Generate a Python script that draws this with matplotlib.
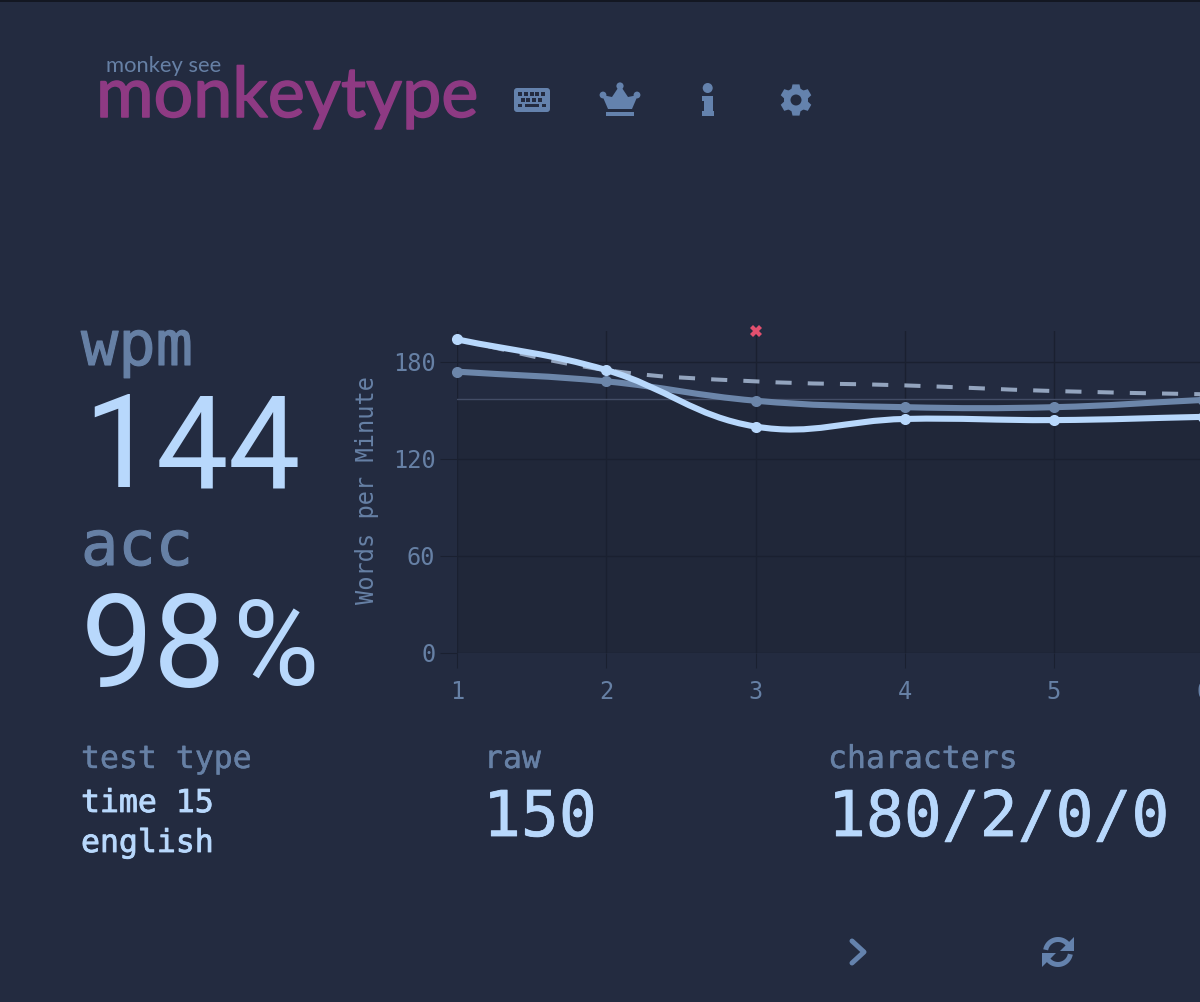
import numpy as np
import matplotlib
matplotlib.use("Agg")
import matplotlib.pyplot as plt
import matplotlib.patheffects as pe
from matplotlib.path import Path
from matplotlib.patches import PathPatch, Polygon, Circle, FancyBboxPatch, Rectangle

BG = "#232b40"
PLOT_BG = "#202739"
GRID = "#1a2030"
SUB = "#6680a5"
MAIN = "#b8d8fc"
LOGO = "#8e3a83"
MONO = "DejaVu Sans Mono"

seconds = [1, 2, 3, 4, 5, 6]
wpm = [194, 175, 140, 144.7, 144, 146]
raw = [174, 168, 156, 152, 152, 156.5]
burst_avg = [194, 175, 168, 165.5, 162, 160]
errors = [0, 0, 2, 0, 0, 0]
pb_line = 157
y_ticks = [0, 60, 120, 180]


def spline_path(xs, ys, tension=0.4, sx=149.25, sy=1.614):
    # same control points chart.js uses for its curved lines
    pts = np.column_stack([np.array(xs) * sx, np.array(ys) * sy])
    n = len(pts)
    verts = [pts[0]]
    codes = [Path.MOVETO]
    ctrl_out = [None] * n
    ctrl_in = [None] * n
    for i in range(n):
        prev = pts[max(i - 1, 0)]
        nxt = pts[min(i + 1, n - 1)]
        d01 = np.linalg.norm(pts[i] - prev)
        d12 = np.linalg.norm(nxt - pts[i])
        fa = tension * d01 / (d01 + d12)
        fb = tension * d12 / (d01 + d12)
        ctrl_in[i] = pts[i] - fa * (nxt - prev)
        ctrl_out[i] = pts[i] + fb * (nxt - prev)
    for i in range(n - 1):
        verts += [ctrl_out[i], ctrl_in[i + 1], pts[i + 1]]
        codes += [Path.CURVE4] * 3
    return Path(np.array(verts) / [sx, sy], codes)


fig = plt.figure(figsize=(12, 10.02), dpi=100, facecolor=BG)

# chart, the right edge runs just off the picture like the original crop
ax = fig.add_axes([457 / 1200, (1002 - 652.5) / 1002, (5 * 149.25) / 1200, 321.5 / 1002])
ax.set_facecolor(BG)
for s in ax.spines.values():
    s.set_visible(False)
ax.set_xlim(1, 6)
ax.set_ylim(0, 199.2)
ax.axhspan(0, pb_line, color=PLOT_BG, lw=0, zorder=0)
ax.axhline(pb_line, color="#434d66", lw=1, zorder=1)
ax.set_xticks(seconds)
ax.set_yticks(y_ticks)
ax.grid(True, color=GRID, lw=1, zorder=1)
ax.set_axisbelow(True)
ax.tick_params(axis="x", length=10.8, width=0.8, color=GRID, pad=9, labelcolor=SUB, labelsize=17)
ax.tick_params(axis="y", length=12, width=0.8, color=GRID, pad=3.5, labelcolor=SUB, labelsize=17)
for lab in ax.get_xticklabels() + ax.get_yticklabels():
    lab.set_family(MONO)
ax.set_ylabel("Words per Minute", color=SUB, fontsize=17, family=MONO)
ax.yaxis.set_label_coords(-0.104, 0.505)

ax.add_patch(PathPatch(spline_path(seconds, burst_avg), fill=False, ec="#93a4be", lw=2.9,
                       ls=(0, (4, 4)), capstyle="butt", zorder=3, clip_on=False))
ax.add_patch(PathPatch(spline_path(seconds, raw), fill=False, ec="#6c86aa", lw=4.4, zorder=4, clip_on=False))
ax.plot(seconds, raw, "o", color="#6c86aa", ms=8, mew=0, zorder=4, clip_on=False)
ax.add_patch(PathPatch(spline_path(seconds, wpm), fill=False, ec=MAIN, lw=4.4, zorder=5, clip_on=False))
ax.plot(seconds, wpm, "o", color=MAIN, ms=8, mew=0, zorder=5, clip_on=False)

ax2 = ax.twinx()
for s in ax2.spines.values():
    s.set_visible(False)
ax2.set_ylim(0, 2)
ax2.set_yticks([])
err_x = [x for x, e in zip(seconds, errors) if e > 0]
err_y = [e for e in errors if e > 0]
ax2.plot(err_x, err_y, "X", color="#e2506f", ms=8, mew=0, clip_on=False)

# everything else is placed in picture pixels
ov = fig.add_axes([0, 0, 1, 1], zorder=10)
ov.set_xlim(0, 1200)
ov.set_ylim(1002, 0)
ov.axis("off")
ov.patch.set_alpha(0)
ov.plot([0, 1200], [0.5, 0.5], color="#10131c", lw=1.2)


def txt(x, y, s, px, color=SUB, family=MONO, stroke=0, **kw):
    t = ov.text(x, y, s, fontsize=px * 0.72, color=color, family=family, va="baseline", ha="left", **kw)
    if stroke:
        t.set_path_effects([pe.withStroke(linewidth=stroke, foreground=color)])


txt(106, 72, "monkey see", 22, family="Lato")
txt(96, 117, "monkeytype", 70, color=LOGO, family="Lato", stroke=1.1)

txt(81, 365, "wpm", 62, stroke=0.8)
# the big numbers are monospaced in the original, so set them digit by digit
for i, ch in enumerate("144"):
    txt(83 + 72.5 * i, 487, ch, 129, color=MAIN, family="Roboto")
txt(81, 565, "acc", 62, stroke=0.8)
for i, ch in enumerate("98"):
    txt(81 + 72 * i, 687, ch, 129, color=MAIN, family="Roboto")
txt(233, 685, "%", 118, color=MAIN, family="Roboto")

txt(81, 768, "test type", 31.5, stroke=0.3)
txt(81, 812, "time 15", 31.5, color=MAIN, stroke=0.6)
txt(81, 852, "english", 31.5, color=MAIN, stroke=0.6)
txt(484, 768, "raw", 31.5, stroke=0.3)
txt(483, 836, "150", 63, color=MAIN, stroke=0.6)
txt(828, 768, "characters", 31.5, stroke=0.3)
txt(828, 836, "180/2/0/0", 63, color=MAIN, stroke=0.6)

# nav icons
ICON = "#6482ad"
ov.add_patch(FancyBboxPatch((516, 90), 32, 20, boxstyle="round,pad=2,rounding_size=3", fc=ICON, ec="none"))
for y, xs in [(94, [520, 526, 532, 537, 543]), (100, [523, 528, 534, 540])]:
    for x in xs:
        ov.add_patch(Rectangle((x - 1.6, y - 1.6), 3.2, 3.2, fc=BG, ec="none"))
ov.add_patch(Rectangle((518, 104), 4, 3.4, fc=BG, ec="none"))
ov.add_patch(Rectangle((525, 104), 14, 3.4, fc=BG, ec="none"))
ov.add_patch(Rectangle((542, 104), 4, 3.4, fc=BG, ec="none"))

ov.add_patch(Polygon([(602, 95), (612, 97), (620, 85), (628, 97), (638, 95), (632, 109), (608, 109)], fc=ICON, ec="none"))
for x, y, r in [(620, 86, 3.6), (603, 95, 3.4), (637, 95, 3.4)]:
    ov.add_patch(Circle((x, y), r, fc=ICON, ec="none"))
ov.add_patch(Rectangle((606, 112), 28, 4, fc=ICON, ec="none"))

ov.add_patch(Circle((707.7, 88), 5, fc=ICON, ec="none"))
ov.add_patch(Polygon([(702, 96), (712.5, 96), (712.5, 111), (714, 111), (714, 116), (702, 116), (702, 111),
                      (703.5, 111), (703.5, 101), (702, 101)], fc=ICON, ec="none"))

ang = np.deg2rad(np.arange(0, 360, 60) + 90)
gear = []
for a in ang:
    for da, r in [(-0.42, 11.5), (-0.22, 16), (0.22, 16), (0.42, 11.5)]:
        gear.append((796 + r * np.cos(a + da), 100 - r * np.sin(a + da)))
ov.add_patch(Polygon(gear, fc=ICON, ec="none"))
ov.add_patch(Circle((796, 100), 12, fc=ICON, ec="none"))
ov.add_patch(Circle((796, 100), 5.5, fc=BG, ec="none"))

# bottom buttons
ov.plot([852, 864, 852], [941, 952, 963], color=ICON, lw=3.6, solid_capstyle="round", solid_joinstyle="round")
t = np.deg2rad(np.linspace(35, 170, 30))
ov.plot(1058 + 12.5 * np.cos(t), 952 - 12.5 * np.sin(t), color=ICON, lw=3.6, solid_capstyle="butt")
ov.plot(1058 - 12.5 * np.cos(t), 952 + 12.5 * np.sin(t), color=ICON, lw=3.6, solid_capstyle="butt")
ov.add_patch(Polygon([(1074, 937), (1074, 951), (1060, 951)], fc=ICON, ec="none"))
ov.add_patch(Polygon([(1042, 967), (1042, 953), (1056, 953)], fc=ICON, ec="none"))

fig.savefig("out.png", dpi=100, facecolor=BG)
